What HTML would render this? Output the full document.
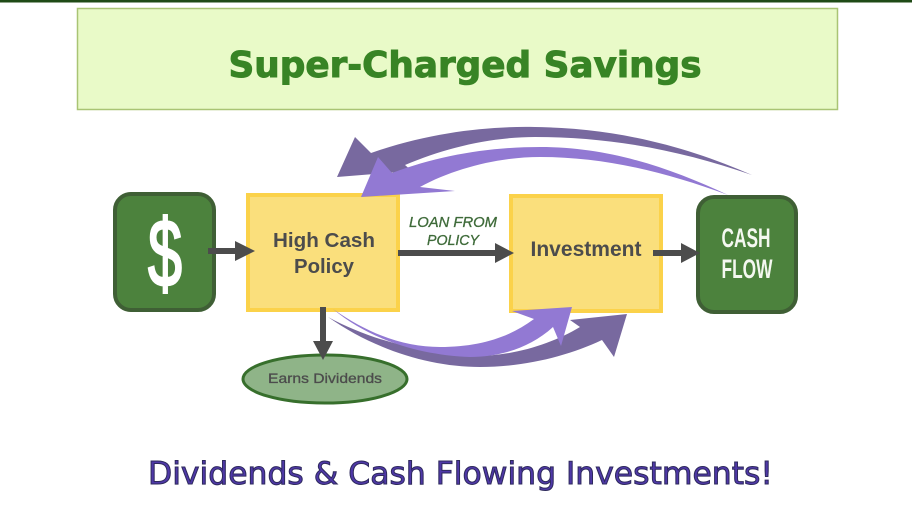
<!DOCTYPE html>
<html><head><meta charset="utf-8"><style>html,body{margin:0;padding:0;background:#fff;width:912px;height:508px;overflow:hidden}svg{display:block}</style></head><body>
<svg width="912" height="508" viewBox="0 0 912 508" xmlns="http://www.w3.org/2000/svg">
<rect x="0" y="0" width="912" height="2.5" fill="#1f4a16"/>
<rect x="77.500" y="8.500" width="760" height="101" fill="#e9fac8" stroke="#a9c474" stroke-width="1.5"/>
<text x="465" y="77" text-anchor="middle" font-family="'DejaVu Sans',sans-serif" font-weight="bold" font-size="36" fill="#388425" stroke="#388425" stroke-width="1" textLength="473" lengthAdjust="spacingAndGlyphs">Super-Charged Savings</text>

<!-- boxes -->
<rect x="115" y="194" width="99" height="116" rx="16" fill="#4c823d" stroke="#3f5f35" stroke-width="4"/>
<rect x="248" y="195" width="150" height="115" fill="#fadf7c" stroke="#fbd24a" stroke-width="4"/>
<rect x="511" y="196" width="150" height="115" fill="#fadf7c" stroke="#fbd24a" stroke-width="4"/>
<rect x="698" y="197" width="98" height="115" rx="16" fill="#4c823d" stroke="#3f5f35" stroke-width="4"/>

<!-- top arrows -->
<path d="M337 177 L355 137 L371 153 C430 132 490 126 535 127 C620 128 690 148 752 175 C680 150 610 137 535 137 C490 137 445 148 405 165 L412 171 Z" fill="#78699f"/>
<path d="M361 197 L378 157 L392 173 C440 155 490 147 540 147 C610 147 670 168 728 195 C665 172 605 157 540 157 C500 157 455 168 420 187 L455 191 Z" fill="#9279d3"/>

<!-- bottom arrows -->
<path d="M328 317 C375 350 430 367 480 367 C525 367 568 356 602 340 L614 357 L627 314 L570 320 L580 327 C550 345 510 357 470 356 C420 352 370 340 328 317 Z" fill="#78699f"/>
<path d="M333 309 C370 335 405 347 440 347 C480 347 510 337 534 319 L512 311 L572 307 L561 346 L553 327 C530 348 500 357 470 357 C420 355 370 340 333 309 Z" fill="#9279d3"/>

<!-- dark arrows -->
<g fill="#4c4c4c">
<path d="M208 248 H235 V241 L255 251 L235 261 V254 H208 Z"/>
<path d="M398 250 H495 V243 L514 253 L495 263 V256 H398 Z"/>
<path d="M653 250 H681 V243 L700 253 L681 263 V256 H653 Z"/>
</g>

<ellipse cx="325" cy="379" rx="82" ry="24" fill="#8fb488" stroke="#376f2c" stroke-width="3"/>
<path d="M320 307 H326 V341 H333 L323 360 L313 341 H320 Z" fill="#4c4c4c"/>
<g fill="#4c4c4c" font-family="'Liberation Sans',sans-serif">
<text x="325" y="383" text-anchor="middle" font-size="14" stroke="#4c4c4c" stroke-width=".3" textLength="114" lengthAdjust="spacingAndGlyphs">Earns Dividends</text>
<text x="324" y="247" text-anchor="middle" font-size="20" font-weight="bold" textLength="102" lengthAdjust="spacingAndGlyphs">High Cash</text>
<text x="324" y="273" text-anchor="middle" font-size="20" font-weight="bold" textLength="60" lengthAdjust="spacingAndGlyphs">Policy</text>
<text x="586" y="256" text-anchor="middle" font-size="21" font-weight="bold" textLength="111" lengthAdjust="spacingAndGlyphs">Investment</text>
</g>
<g fill="#3f6b3a" stroke="#3f6b3a" stroke-width=".3" font-family="'Liberation Sans',sans-serif" font-style="italic" font-size="14.5" text-anchor="middle">
<text x="453" y="227" textLength="88" lengthAdjust="spacingAndGlyphs">LOAN FROM</text>
<text x="453" y="245" textLength="52" lengthAdjust="spacingAndGlyphs">POLICY</text>
</g>
<text x="165" y="286" text-anchor="middle" font-family="'Liberation Sans',sans-serif" font-size="96" fill="#fff" stroke="#fff" stroke-width="2.5" textLength="34" lengthAdjust="spacingAndGlyphs">$</text>
<g fill="#f4f8f0" font-family="'Liberation Sans',sans-serif" font-weight="bold" font-size="27" text-anchor="middle">
<text x="746" y="247" textLength="49" lengthAdjust="spacingAndGlyphs">CASH</text>
<text x="747" y="278" textLength="51" lengthAdjust="spacingAndGlyphs">FLOW</text>
</g>
<text x="460.500" y="484" text-anchor="middle" font-family="'DejaVu Sans',sans-serif" font-size="31" fill="#4f38a8" stroke="#2e2a5c" stroke-width="1" textLength="625" lengthAdjust="spacingAndGlyphs">Dividends &amp; Cash Flowing Investments!</text>
</svg>
</body></html>
